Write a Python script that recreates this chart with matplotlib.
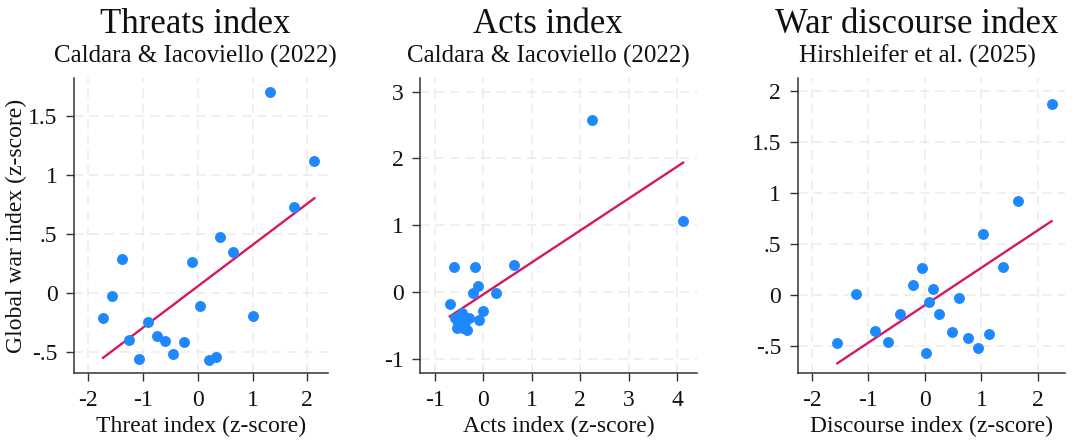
import matplotlib
matplotlib.use("Agg")
import matplotlib.pyplot as plt
from matplotlib.ticker import FuncFormatter
import numpy as np

plt.rcParams['font.family'] = ['Liberation Serif', 'DejaVu Serif']

# threats panel
threat_x = [-1.73, -1.56, -1.39, -1.26, -1.07, -0.91, -0.74, -0.59, -0.45, -0.26,
            -0.10, 0.04, 0.20, 0.33, 0.41, 0.65, 1.00, 1.32, 1.75, 2.13]
threat_y = [-0.21, -0.03, 0.29, -0.40, -0.56, -0.25, -0.37, -0.41, -0.52, -0.42,
            0.26, -0.11, -0.57, -0.54, 0.47, 0.35, -0.20, 1.70, 0.73, 1.12]

# acts panel
acts_x = [-0.69, -0.61, -0.58, -0.55, -0.52, -0.48, -0.45, -0.41, -0.38, -0.34,
          -0.29, -0.22, -0.17, -0.12, -0.09, -0.01, 0.26, 0.64, 2.24, 4.12]
acts_y = [-0.17, 0.38, -0.38, -0.53, -0.47, -0.40, -0.31, -0.53, -0.45, -0.56,
          -0.39, -0.01, 0.38, 0.09, -0.42, -0.28, -0.01, 0.41, 2.58, 1.06]

# discourse panel
disc_x = [-1.55, -1.22, -0.88, -0.66, -0.44, -0.21, -0.06, 0.02, 0.08, 0.14,
          0.25, 0.47, 0.61, 0.76, 0.93, 1.03, 1.14, 1.38, 1.65, 2.24]
disc_y = [-0.47, 0.01, -0.36, -0.46, -0.19, 0.10, 0.26, -0.57, -0.07, 0.06,
          -0.19, -0.37, -0.03, -0.43, -0.52, 0.60, -0.39, 0.27, 0.92, 1.88]

titles = ["Threats index", "Acts index", "War discourse index"]
subtitles = ["Caldara & Iacoviello (2022)", "Caldara & Iacoviello (2022)",
             "Hirshleifer et al. (2025)"]
xlabels = ["Threat index (z-score)", "Acts index (z-score)", "Discourse index (z-score)"]
ylabel = "Global war index (z-score)"

panels = [(threat_x, threat_y), (acts_x, acts_y), (disc_x, disc_y)]
xticks = [[-2, -1, 0, 1, 2], [-1, 0, 1, 2, 3, 4], [-2, -1, 0, 1, 2]]
yticks = [[-0.5, 0, 0.5, 1, 1.5], [-1, 0, 1, 2, 3], [-0.5, 0, 0.5, 1, 1.5, 2]]
xlims = [(-2.26, 2.38), (-1.30, 4.40), (-2.25, 2.48)]
ylims = [(-0.68, 1.82), (-1.21, 3.20), (-0.77, 2.13)]
boxes = [[0.0685, 0.156, 0.235, 0.667],
         [0.3888, 0.156, 0.2557, 0.667],
         [0.738, 0.156, 0.2473, 0.667]]
title_x = [195 / 1081, 548 / 1081, 917 / 1081]

dot_color = '#1f88ff'
line_color = '#d6185e'


def stata_fmt(v, _):
    s = ('%g' % v)
    if s.startswith('0.'):
        s = s[1:]
    elif s.startswith('-0.'):
        s = '-' + s[2:]
    return s


fig = plt.figure(figsize=(10.81, 4.42), dpi=100)

for i, (xs, ys) in enumerate(panels):
    ax = fig.add_axes(boxes[i])
    xs = np.array(xs)
    ys = np.array(ys)
    ax.scatter(xs, ys, s=62, color=dot_color, zorder=3, linewidths=0)
    b, a = np.polyfit(xs, ys, 1)
    fx = np.array([xs.min(), xs.max()])
    ax.plot(fx, a + b * fx, color=line_color, lw=1.7, zorder=2)

    ax.set_xlim(xlims[i])
    ax.set_ylim(ylims[i])
    ax.set_xticks(xticks[i])
    ax.set_yticks(yticks[i])
    ax.yaxis.set_major_formatter(FuncFormatter(stata_fmt))
    ax.xaxis.set_major_formatter(FuncFormatter(stata_fmt))
    ax.grid(True, color='#ebebeb', ls=(0, (6, 4)), lw=1.1)
    ax.set_axisbelow(True)
    for side in ['top', 'right']:
        ax.spines[side].set_visible(False)
    for side in ['left', 'bottom']:
        ax.spines[side].set_color('#333333')
        ax.spines[side].set_linewidth(1.1)
    ax.tick_params(direction='out', length=6, width=1, color='#333333',
                   labelsize=17, labelcolor='#111111', pad=6)
    ax.set_xlabel(xlabels[i], fontsize=17, labelpad=4, color='#111111')
    if i == 0:
        ax.set_ylabel(ylabel, fontsize=17, labelpad=1, color='#111111')

    fig.text(title_x[i], 0.945, titles[i], ha='center', va='center',
             fontsize=25, color='#111111')
    fig.text(title_x[i], 0.872, subtitles[i], ha='center', va='center',
             fontsize=18, color='#111111')

fig.savefig('out.png', dpi=100)
